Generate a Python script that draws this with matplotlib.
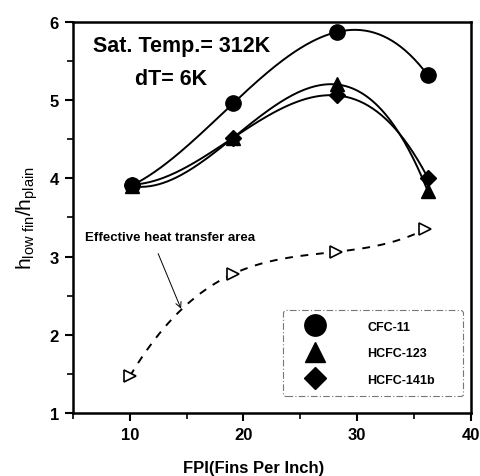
import numpy as np
import matplotlib
matplotlib.use("Agg")
import matplotlib.pyplot as plt

plt.rcParams['font.family'] = ['Liberation Sans', 'DejaVu Sans']
plt.rcParams['font.weight'] = 'bold'
plt.rcParams['mathtext.fontset'] = 'custom'
plt.rcParams['mathtext.rm'] = 'Liberation Sans:bold'
plt.rcParams['mathtext.bf'] = 'Liberation Sans:bold'
plt.rcParams['mathtext.it'] = 'Liberation Sans:bold'

# Data
fpi = [10.2, 19.1, 28.2, 36.2]
cfc11 = [3.91, 4.96, 5.87, 5.32]
hcfc123 = [3.90, 4.52, 5.20, 3.84]
hcfc141b = [3.92, 4.52, 5.06, 4.01]
area_fpi = [10.0, 19.1, 28.1, 36.0]
area = [1.47, 2.78, 3.06, 3.35]

labels = ['CFC-11', 'HCFC-123', 'HCFC-141b']

fig = plt.figure(figsize=(4.8, 4.77), dpi=100)
ax = fig.add_axes([0.152, 0.132, 0.829, 0.820])

def smooth(x, y):
    c = np.polyfit(x, y, len(x) - 1)
    xs = np.linspace(min(x), max(x), 200)
    return xs, np.polyval(c, xs)

handles = []
for y, m, ms in [(cfc11, 'o', 11), (hcfc123, '^', 10), (hcfc141b, 'D', 8)]:
    xs, ys = smooth(fpi, y)
    ax.plot(xs, ys, color='black', lw=1.4)
    h, = ax.plot(fpi, y, ls='none', marker=m, ms=ms, color='black')
    handles.append(h)

xs, ys = smooth(area_fpi, area)
ax.plot(xs, ys, color='black', lw=1.4, dashes=(4, 4))
ax.plot(area_fpi, area, ls='none', marker='>', ms=8, mfc='white',
        mec='black', mew=1.2)

ax.set_xlim(5, 40)
ax.set_ylim(1, 6)
ax.set_xticks([10, 20, 30, 40])
ax.set_xticks([5, 15, 25, 35], minor=True)
ax.set_yticks([1, 2, 3, 4, 5, 6])
ax.set_yticks([1.5, 2.5, 3.5, 4.5, 5.5], minor=True)
ax.tick_params(which='major', direction='out', length=6, width=1.5,
               labelsize=12, pad=4)
ax.tick_params(which='minor', direction='out', length=4, width=1.2)
for lab in ax.get_xticklabels() + ax.get_yticklabels():
    lab.set_fontweight('bold')
for s in ax.spines.values():
    s.set_linewidth(1.8)

ax.set_xlabel('FPI(Fins Per Inch)', fontsize=12, fontweight='bold')
ax.xaxis.set_label_coords(0.455, -0.12)
ax.set_ylabel(r'$\mathregular{h_{low\ fin}/h_{plain}}$', fontsize=15, labelpad=7)

ax.text(6.8, 5.7, 'Sat. Temp.= 312K', fontsize=15.5, fontweight='bold',
        va='center', ha='left')
ax.text(10.5, 5.28, 'dT= 6K', fontsize=15.5, fontweight='bold',
        va='center', ha='left')

ax.text(6.1, 3.25, 'Effective heat transfer area', fontsize=9.5,
        fontweight='bold', va='center', ha='left')
ax.annotate('', xy=(14.6, 2.30), xytext=(12.4, 3.07),
            arrowprops=dict(arrowstyle='->', lw=0.7, color='black'))

leg = ax.legend(handles, labels, loc='lower left',
                bbox_to_anchor=(0.528, 0.043, 0.452, 0.223), mode='expand',
                borderaxespad=0,
                fontsize=9, frameon=True, fancybox=True, handletextpad=2.5,
                borderpad=0.85, labelspacing=1.15, markerscale=1.4,
                handlelength=3.4)
for t in leg.get_texts():
    t.set_fontweight('bold')
fr = leg.get_frame()
fr.set_edgecolor('#555555')
fr.set_linestyle((0, (6, 2, 1, 2)))
fr.set_linewidth(0.8)

fig.savefig('out.png', dpi=100)
